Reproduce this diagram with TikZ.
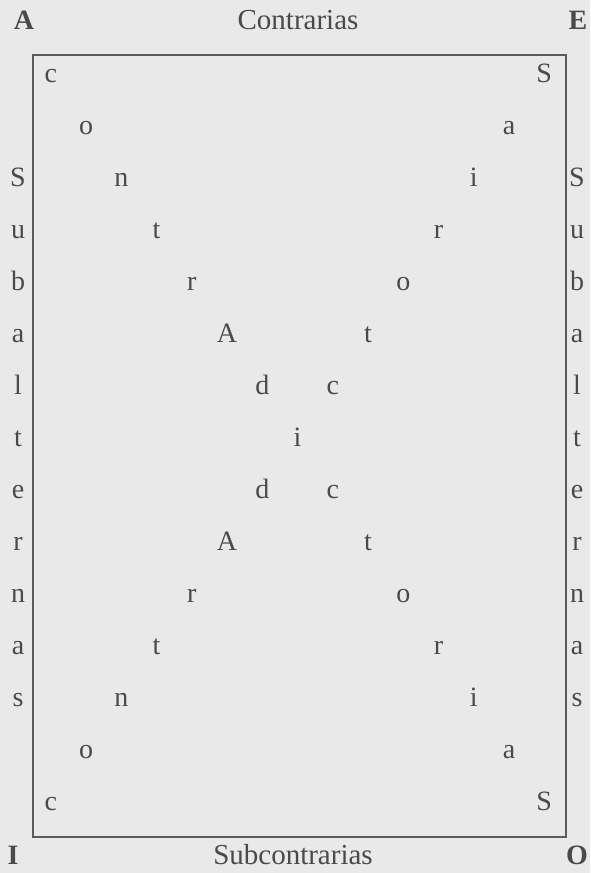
\documentclass[tikz,border=0pt]{standalone}
\usepackage{fontspec}
\setmainfont{Liberation Serif}
\usepackage{xcolor}
\definecolor{inkgray}  {HTML}{4A4A4A}
\definecolor{linegray} {HTML}{5C5C5C}
\definecolor{papergray}{HTML}{E9E9E9}

\begin{document}
\begin{tikzpicture}[
    x=1pt, y=-1pt,
    ltr/.style    = {inner sep=0pt, anchor=base, text=inkgray,
                     font=\fontsize{28}{30}\selectfont},
    corner/.style = {ltr, font=\fontsize{28}{30}\selectfont\bfseries},
    lbl/.style    = {ltr, font=\fontsize{29}{31}\selectfont},
    frame/.style  = {draw=linegray, line width=1.3pt}
  ]

  %% page
  \fill[papergray] (0,0) rectangle (590,873);
  \useasboundingbox (0,0) rectangle (590,873);

  %% square
  \coordinate (fnw) at (33,55);
  \coordinate (fse) at (566,837);
  \draw[frame] (fnw) rectangle (fse);

  %% corners and top / bottom
  \node[corner] (ca) at (24,29)  {A};
  \node[corner] (ce) at (578,29) {E};
  \node[corner] (ci) at (13,864) {I};
  \node[corner] (co) at (577,864) {O};
  \node[lbl] (contr)    at (298,29)  {Contrarias};
  \node[lbl] (subcontr) at (293,864) {Subcontrarias};

  %% sides
  \foreach \ch [count=\k from 3] in {S,u,b,a,l,t,e,r,n,a,s} {
    \node[ltr] (sl\k) at (18,  {82.5+52*(\k-1)}) {\ch};
    \node[ltr] (sr\k) at (577, {82.5+52*(\k-1)}) {\ch};
  }

  %% diagonals
  \foreach \ch [count=\k] in {c,o,n,t,r,A,d,i,c,t,o,r,i,a,S}
    \node[ltr] (da\k) at ({297.5+35.25*(\k-8)}, {82.5+52*(\k-1)}) {\ch};
  \foreach \ch [count=\k] in {S,a,i,r,o,t,c,i,d,A,r,t,n,o,c} {
    \ifnum\k=8 \else
      \node[ltr] (db\k) at ({297.5-35.25*(\k-8)}, {82.5+52*(\k-1)}) {\ch};
    \fi
  }

\end{tikzpicture}
\end{document}
